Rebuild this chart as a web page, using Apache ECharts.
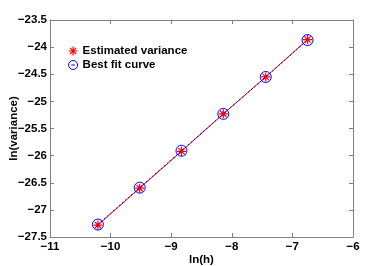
<!DOCTYPE html>
<html>
<head>
<meta charset="utf-8">
<script src="https://cdn.jsdelivr.net/npm/echarts@6/dist/echarts.min.js"></script>
<style>html,body{margin:0;padding:0;background:#fff}#c{width:390px;height:266px}</style>
</head>
<body>
<div id="c"></div>
<script>
var lnH = [-10.21, -9.52, -8.83, -8.14, -7.44, -6.75];
var estimatedVariance = [-27.28, -26.60, -25.92, -25.23, -24.55, -23.86];
var bestFit = [-27.27, -26.59, -25.91, -25.23, -24.55, -23.87];
var seriesNames = ['Estimated variance', 'Best fit curve'];
var xLabel = 'ln(h)';
var yLabel = 'ln(variance)';

var FONT = '"Liberation Sans", Arial, sans-serif';
var FS = 11.5;
var AX = '#808080';
function minus(v){ return String(v).replace('-', '\u2212'); }
function pairs(xs, ys){ return xs.map(function(x,i){ return [x, ys[i]]; }); }
var star = 'path://M0,-10 L0,10 M-10,0 L10,0 M-7,-7 L7,7 M-7,7 L7,-7';
var ring = 'path://M10,0 A10,10 0 1,1 -10,0 A10,10 0 1,1 10,0 Z M-4,0 L4,0';

var chart = echarts.init(document.getElementById('c'), null, {renderer:'canvas'});
var baseX = {type:'value', min:-11, max:-6, interval:1,
  axisLine:{show:true, onZero:false, lineStyle:{color:AX, width:1}},
  axisTick:{show:true, inside:true, length:4, lineStyle:{color:AX}},
  splitLine:{show:false}};
var baseY = {type:'value', min:-27.5, max:-23.5, interval:0.5,
  axisLine:{show:true, onZero:false, lineStyle:{color:AX, width:1}},
  axisTick:{show:true, inside:true, length:4, lineStyle:{color:AX}},
  splitLine:{show:false}};
var txt = {fontFamily:FONT, fontWeight:'bold', fontSize:FS, color:'#000'};
chart.setOption({
  animation:false,
  backgroundColor:'#fff',
  grid:{left:50, right:37, top:20, bottom:29, containLabel:false, outerBoundsMode:'none'},
  legend:{
    orient:'vertical', left:68, top:45, padding:0, itemWidth:9, itemHeight:9, itemGap:2,
    textStyle:txt,
    data:[
      {name:seriesNames[0], icon:star, itemStyle:{color:'rgba(0,0,0,0)', borderColor:'#ff0000', borderWidth:1.2}},
      {name:seriesNames[1], icon:ring, itemStyle:{color:'rgba(0,0,0,0)', borderColor:'#0000ff', borderWidth:1}}
    ]
  },
  xAxis:[
    Object.assign({}, baseX, {position:'bottom', name:xLabel, nameLocation:'middle', nameGap:17,
      nameMoveOverlap:false, nameTextStyle:txt,
      axisLabel:Object.assign({margin:4, formatter:minus}, txt)}),
    Object.assign({}, baseX, {position:'top', axisLabel:{show:false}})
  ],
  yAxis:[
    Object.assign({}, baseY, {position:'left', name:yLabel, nameLocation:'middle', nameGap:30,
      nameMoveOverlap:false, nameTextStyle:txt,
      axisLabel:Object.assign({margin:3, formatter:minus}, txt)}),
    Object.assign({}, baseY, {position:'right', axisLabel:{show:false}})
  ],
  series:[
    {name:seriesNames[0], type:'line', data:pairs(lnH, estimatedVariance),
      symbol:star, symbolSize:9, showSymbol:true,
      lineStyle:{color:'#ff0000', width:1},
      itemStyle:{color:'rgba(0,0,0,0)', borderColor:'#ff0000', borderWidth:1.2},
      z:2},
    {name:seriesNames[1], type:'line', data:pairs(lnH, bestFit),
      symbol:'circle', symbolSize:11, showSymbol:true,
      lineStyle:{color:'#0000ff', width:1, type:[2,2]},
      itemStyle:{color:'rgba(0,0,0,0)', borderColor:'#0000ff', borderWidth:1},
      z:3}
  ]
});
</script>
</body>
</html>
